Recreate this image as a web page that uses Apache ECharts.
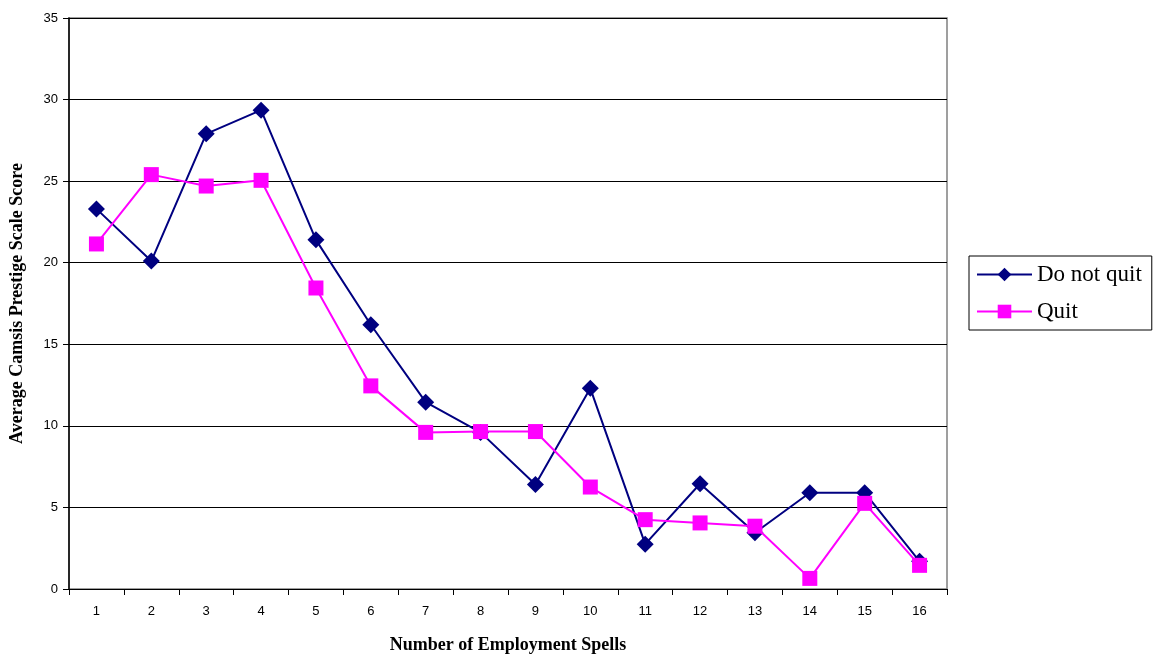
<!DOCTYPE html>
<html><head><meta charset="utf-8">
<script src="https://cdn.jsdelivr.net/npm/echarts@6/dist/echarts.min.js"></script>
<style>html,body{margin:0;padding:0;background:#fff}#c{width:1154px;height:659px}</style>
</head><body><div id="c"></div>
<script>
const categories = ['1','2','3','4','5','6','7','8','9','10','11','12','13','14','15','16'];
const doNotQuit = [23.3, 20.1, 27.9, 29.35, 21.4, 16.2, 11.45, 9.6, 6.4, 12.3, 2.75, 6.45, 3.45, 5.9, 5.9, 1.7];
const quit = [21.15, 25.4, 24.7, 25.05, 18.45, 12.45, 9.6, 9.65, 9.65, 6.25, 4.25, 4.05, 3.85, 0.65, 5.25, 1.45];
const chart = echarts.init(document.getElementById('c'));
chart.setOption({
  animation: false,
  backgroundColor: '#fff',
  grid: {left: 69, right: 207, top: 18, bottom: 70, show: true, borderColor: '#808080', borderWidth: 1.5, containLabel: false},
  legend: {
    orient: 'vertical', left: 969, top: 256,
    itemWidth: 55, itemHeight: 17, itemGap: 14,
    padding: [7, 10, 7, 7],
    borderColor: '#000', borderWidth: 1,
    textStyle: {fontFamily: 'Liberation Serif', fontSize: 23, color: '#000'},
    data: ['Do not quit', 'Quit']
  },
  xAxis: {
    type: 'category', data: categories, boundaryGap: true,
    name: 'Number of Employment Spells', nameLocation: 'middle', nameGap: 47,
    nameTextStyle: {fontFamily: 'Liberation Serif', fontSize: 18, fontWeight: 'bold', color: '#000'},
    axisLine: {lineStyle: {color: '#000', width: 1}},
    axisTick: {show: true, alignWithLabel: false, length: 6, lineStyle: {color: '#000'}},
    axisLabel: {fontFamily: 'Liberation Sans', fontSize: 13, color: '#000', margin: 16}
  },
  yAxis: {
    type: 'value', min: 0, max: 35, interval: 5,
    name: 'Average Camsis Prestige Scale Score', nameLocation: 'middle', nameGap: 43,
    nameTextStyle: {fontFamily: 'Liberation Serif', fontSize: 18, fontWeight: 'bold', color: '#000'},
    axisLine: {show: true, lineStyle: {color: '#000', width: 1.5}},
    axisTick: {show: true, length: 6, lineStyle: {color: '#000'}},
    axisLabel: {fontFamily: 'Liberation Sans', fontSize: 13, color: '#000', margin: 11},
    splitLine: {lineStyle: {color: '#000', width: 1}}
  },
  series: [
    {name: 'Do not quit', type: 'line', data: doNotQuit, symbol: 'diamond', symbolSize: 17,
     lineStyle: {color: '#000080', width: 2}, itemStyle: {color: '#000080'}, z: 2},
    {name: 'Quit', type: 'line', data: quit, symbol: 'rect', symbolSize: 15,
     lineStyle: {color: '#ff00ff', width: 2}, itemStyle: {color: '#ff00ff'}, z: 3}
  ]
});
</script></body></html>
